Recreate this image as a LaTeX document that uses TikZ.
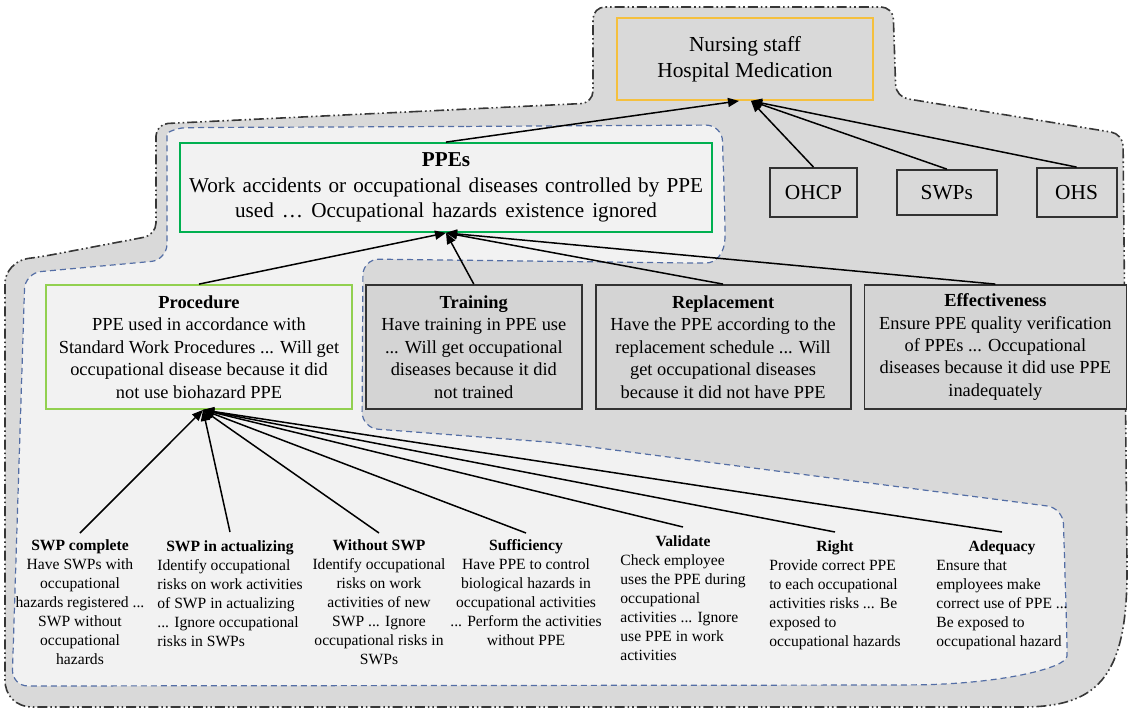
\documentclass[tikz,border=0pt]{standalone}
\usepackage{fontspec}
\setmainfont{Liberation Serif}
\usetikzlibrary{arrows.meta,positioning}
\definecolor{regiongray}{RGB}{217,217,217}
\definecolor{boxgray}{RGB}{212,212,212}
\definecolor{paleregion}{RGB}{242,242,242}
\definecolor{ppegreen}{RGB}{0,176,80}
\definecolor{procgreen}{RGB}{146,208,80}
\definecolor{nursegold}{RGB}{245,192,62}
\definecolor{dashblue}{RGB}{84,110,165}
\definecolor{outlinegray}{RGB}{55,55,55}
\definecolor{boxedge}{RGB}{50,50,50}
\newcommand{\causetitle}[1]{\multicolumn{1}{@{}c@{}}{\textbf{#1}}}

\begin{document}
\begin{tikzpicture}[
  x=0.5pt, y=-0.5pt,
  node distance=6pt,
  box/.style={rectangle, draw=boxedge, line width=0.9pt, fill=boxgray,
    align=center, inner sep=2pt, font=\fontsize{9.2}{11.2}\selectfont},
  tag/.style={box, fill=regiongray, font=\fontsize{10.7}{12.8}\selectfont},
  cause/.style={inner sep=3pt, anchor=north, font=\fontsize{7.8}{9.5}\selectfont},
  arrow/.style={-{Triangle[length=5.5pt,width=4.5pt]}, line width=0.75pt},
  outline/.style={draw=outlinegray, line width=0.8pt,
    dash pattern=on 5pt off 1.5pt on 0.8pt off 1.5pt on 0.8pt off 1.5pt},
  inline/.style={draw=dashblue, line width=0.6pt, dash pattern=on 3pt off 2pt},
]
  \useasboundingbox (0,0) rectangle (1131,709);

  \path[outline, fill=regiongray, rounded corners=6pt]
    (400,112.3) -- (593,103) -- (593,7) -- (893,7) -- (896,97) -- (1123,134)
    -- (1127,560) .. controls (1127,680) and (1095,707) .. (1010,707)
    -- (45,707) .. controls (15,707) and (5,695) .. (5,668)
    -- (5,295) .. controls (5,272) and (15,260) .. (40,257)
    -- (156,235) -- (156,124) -- cycle;

  \path[inline, fill=paleregion, rounded corners=8pt]
    (450,126.5) -- (722,125) -- (725,220) .. controls (725,255) and (715,263) .. (690,263)
    -- (363,259) -- (362,428) -- (560,443) -- (1063,508) -- (1067,640)
    .. controls (1067,668) and (1000,684) .. (900,685)
    -- (12,686) -- (25,273) -- (167,260) -- (167,150)
    .. controls (167,132) and (178,128) .. (200,127.5) -- cycle;

  \node[tag, draw=nursegold, minimum width=128pt, minimum height=41pt] (nurse)
    at (745,59) {Nursing staff\\Hospital Medication};
  \node[tag, minimum width=43.5pt, minimum height=24.5pt] (ohcp)
    at (813.5,192.5) {OHCP};
  \node[tag, right=19pt of ohcp, minimum width=50pt, minimum height=22.5pt] (swps) {SWPs};
  \node[tag, right=19pt of swps, minimum width=40pt, minimum height=24.5pt] (ohs) {OHS};

  \node[box, draw=ppegreen, fill=paleregion, minimum width=266pt, minimum height=44.5pt,
    font=\fontsize{10.6}{12.6}\selectfont] (ppes) at (446,187.5)
    {\textbf{PPEs}\\
     \makebox[257pt][s]{Work accidents or occupational diseases controlled by PPE}\\
     \makebox[211pt][s]{used … Occupational hazards existence ignored}};

  \node[box, draw=procgreen, fill=paleregion, minimum width=153pt, minimum height=62pt] (proc)
    at (199,347) {\textbf{Procedure}\\PPE used in accordance with\\
    Standard Work Procedures ... Will get\\occupational disease because it did\\
    not use biohazard PPE};
  \node[box, right=of proc, minimum width=108pt, minimum height=62pt] (train)
    {\textbf{Training}\\Have training in PPE use\\... Will get occupational\\
    diseases because it did\\not trained};
  \node[box, right=of train, minimum width=127.5pt, minimum height=62pt] (repl)
    {\textbf{Replacement}\\Have the PPE according to the\\replacement schedule ... Will\\
    get occupational diseases\\because it did not have PPE};
  \node[box, right=of repl, minimum width=131pt, minimum height=62pt] (effect)
    {\textbf{Effectiveness}\\Ensure PPE quality verification\\of PPEs ... Occupational\\
    diseases because it did use PPE\\inadequately};

  \node[cause, align=center] (swpc) at (80,533)
    {\textbf{SWP complete}\\Have SWPs with\\occupational\\hazards registered ...\\
    SWP without\\occupational\\hazards};
  \node[cause] (swpa) at (230,532)
    {\begin{tabular}{@{}l@{}}\causetitle{SWP in actualizing}\\Identify occupational\\
    risks on work activities\\of SWP in actualizing\\... Ignore occupational\\
    risks in SWPs\end{tabular}};
  \node[cause, align=center] (noswp) at (379,533)
    {\textbf{Without SWP}\\Identify occupational\\risks on work\\activities of new\\
    SWP ...  Ignore\\occupational risks in\\SWPs};
  \node[cause, align=center] (suff) at (526,533)
    {\textbf{Sufficiency}\\Have PPE to control\\biological hazards in\\
    occupational activities\\... Perform the activities\\without PPE};
  \node[cause] (valid) at (683,527)
    {\begin{tabular}{@{}l@{}}\causetitle{Validate}\\Check employee\\uses the PPE during\\
    occupational\\activities ... Ignore\\use PPE in work\\activities\end{tabular}};
  \node[cause] (right) at (835,532)
    {\begin{tabular}{@{}l@{}}\causetitle{Right}\\Provide correct PPE\\to each occupational\\
    activities risks ... Be\\exposed to\\occupational hazards\end{tabular}};
  \node[cause] (adeq) at (1002,532)
    {\begin{tabular}{@{}l@{}}\causetitle{Adequacy}\\Ensure that\\employees make\\
    correct use of PPE ...\\Be exposed to\\occupational hazard\end{tabular}};

  \draw[arrow] (ppes.north) -- ([xshift=-3pt]nurse.south);
  \draw[arrow] (ohcp.north) -- ([xshift=3pt]nurse.south);
  \draw[arrow] (swps.north) -- ([xshift=3pt]nurse.south);
  \draw[arrow] (ohs.north)  -- ([xshift=3pt]nurse.south);

  \draw[arrow] (proc.north)   -- (ppes.south);
  \draw[arrow] (train.north)  -- (ppes.south);
  \draw[arrow] (repl.north)   -- (ppes.south);
  \draw[arrow] (effect.north) -- (ppes.south);

  \draw[arrow] (swpc.north)  -- ([xshift=2pt]proc.south);
  \draw[arrow] (swpa.north)  -- ([xshift=2pt]proc.south);
  \draw[arrow] (noswp.north) -- ([xshift=2pt]proc.south);
  \draw[arrow] (suff.north)  -- ([xshift=2pt]proc.south);
  \draw[arrow] (valid.north) -- ([xshift=2pt]proc.south);
  \draw[arrow] (right.north) -- ([xshift=2pt]proc.south);
  \draw[arrow] (adeq.north)  -- ([xshift=2pt]proc.south);
\end{tikzpicture}
\end{document}
